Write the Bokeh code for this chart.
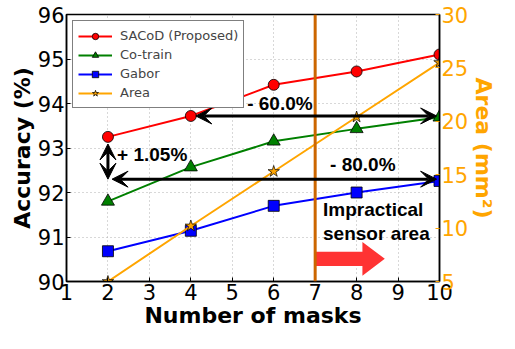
from bokeh.plotting import figure
from bokeh.models import (Range1d, LinearAxis, Legend, LegendItem, Span, Arrow,
                          VeeHead, Label, ColumnDataSource, FixedTicker)
from bokeh.embed import file_html
from bokeh.resources import INLINE

# ---- data ----
masks = [2, 4, 6, 8, 10]
sacod = [93.25, 93.72, 94.42, 94.72, 95.10]
cotrain = [91.80, 92.57, 93.15, 93.43, 93.69]
gabor = [90.68, 91.14, 91.70, 92.00, 92.26]
area = [5.0, 10.2, 15.3, 20.4, 25.5]

x_ticks = [1, 2, 3, 4, 5, 6, 7, 8, 9, 10]
acc_ticks = [90, 91, 92, 93, 94, 95, 96]
area_ticks = [5, 10, 15, 20, 25, 30]

# annotation anchors (data units)
limit_masks = 7
arr60 = dict(x0=4.12, x1=9.93, y=93.72)
arr80 = dict(x0=2.10, x1=9.93, y=92.30)
arr105 = dict(x=2.0, y0=93.09, y1=92.30)
red_arrow = dict(x0=7.0, xb=8.14, x1=8.68, yc=90.51, hw=0.16, hh=0.38)

ORANGE = "#ffa500"
TXT_FONT = "Liberation Sans"
TICK_FS = "21px"
TITLE_FS = "22px"

p = figure(width=499, height=333, output_backend="svg", toolbar_location=None,
           x_range=Range1d(1, 10), y_range=Range1d(90, 96),
           min_border_left=66, min_border_right=55, min_border_top=14,
           min_border_bottom=52)
p.extra_y_ranges = {"area": Range1d(5, 30)}

p.outline_line_color = "black"
p.outline_line_width = 1.5
p.background_fill_color = "white"

def style_axis(ax, color="black", tick_color="black"):
    ax.major_label_text_font = "DejaVu Sans"
    ax.major_label_text_font_size = TICK_FS
    ax.major_label_text_color = color
    ax.axis_label_text_font = "DejaVu Sans"
    ax.axis_label_text_font_style = "bold"
    ax.axis_label_text_font_size = TITLE_FS
    ax.axis_label_text_color = color
    ax.major_tick_out = 0
    ax.major_tick_in = 4
    ax.major_tick_line_color = tick_color
    ax.minor_tick_line_color = None
    ax.axis_line_color = "black"
    ax.axis_line_width = 1.5
    ax.major_label_standoff = 2
    ax.axis_label_standoff = 0

style_axis(p.xaxis[0])
style_axis(p.yaxis[0])
p.xaxis[0].ticker = FixedTicker(ticks=x_ticks)
p.yaxis[0].ticker = FixedTicker(ticks=acc_ticks)
p.xaxis[0].axis_label = "Number of masks"
p.yaxis[0].axis_label = "Accuracy (%)"

ax_r = LinearAxis(y_range_name="area", ticker=FixedTicker(ticks=area_ticks),
                  axis_label="Area (mm²)")
style_axis(ax_r, color=ORANGE, tick_color=ORANGE)
p.add_layout(ax_r, "right")

for g in (p.xgrid[0], p.ygrid[0]):
    g.grid_line_color = "#b0b0b0"
    g.grid_line_dash = "1 3"
    g.grid_line_width = 1
p.xgrid[0].ticker = FixedTicker(ticks=x_ticks)
p.ygrid[0].ticker = FixedTicker(ticks=acc_ticks)

src = ColumnDataSource(dict(x=masks, sacod=sacod, cotrain=cotrain, gabor=gabor, area=area))

# impractical region line
p.add_layout(Span(location=limit_masks, dimension="height", line_color="#cc6600",
                  line_width=3))

items = []
l1 = p.line("x", "sacod", source=src, line_color="red", line_width=2)
m1 = p.scatter("x", "sacod", source=src, marker="circle", size=11,
               fill_color="red", line_color="black", line_width=0.8)
items.append(LegendItem(label="SACoD (Proposed)", renderers=[l1, m1]))

l2 = p.line("x", "cotrain", source=src, line_color="green", line_width=2)
m2 = p.scatter("x", "cotrain", source=src, marker="triangle", size=13,
               fill_color="green", line_color="black", line_width=0.8)
items.append(LegendItem(label="Co-train", renderers=[l2, m2]))

l3 = p.line("x", "gabor", source=src, line_color="blue", line_width=2)
m3 = p.scatter("x", "gabor", source=src, marker="square", size=11,
               fill_color="blue", line_color="black", line_width=0.8)
items.append(LegendItem(label="Gabor", renderers=[l3, m3]))

l4 = p.line("x", "area", source=src, line_color=ORANGE, line_width=2, y_range_name="area")
m4 = p.scatter("x", "area", source=src, marker="star", size=12, y_range_name="area",
               fill_color=ORANGE, line_color="black", line_width=0.7)
items.append(LegendItem(label="Area", renderers=[l4, m4]))

# red arrow (impractical direction)
ra = red_arrow
p.patch([ra["x0"], ra["xb"], ra["xb"], ra["x1"], ra["xb"], ra["xb"], ra["x0"]],
        [ra["yc"] - ra["hw"], ra["yc"] - ra["hw"], ra["yc"] - ra["hh"], ra["yc"],
         ra["yc"] + ra["hh"], ra["yc"] + ra["hw"], ra["yc"] + ra["hw"]],
        fill_color="#ff3333", line_color=None)

def head():
    return VeeHead(size=16, fill_color="black", line_color="black")

p.add_layout(Arrow(x_start=arr60["x0"], y_start=arr60["y"], x_end=arr60["x1"], y_end=arr60["y"],
                   start=head(), end=head(), line_width=3, line_color="black"))
p.add_layout(Arrow(x_start=arr80["x0"], y_start=arr80["y"], x_end=arr80["x1"], y_end=arr80["y"],
                   start=head(), end=head(), line_width=3, line_color="black"))
p.add_layout(Arrow(x_start=arr105["x"], y_start=arr105["y0"], x_end=arr105["x"], y_end=arr105["y1"],
                   start=head(), end=head(), line_width=3, line_color="black"))

def lab(x, y, text, align="center"):
    p.add_layout(Label(x=x, y=y, text=text, text_font=TXT_FONT, text_font_style="bold",
                       text_font_size="19px", text_color="black", text_align=align,
                       text_baseline="middle"))

lab(6.15, 94.0, "- 60.0%")
lab(8.15, 92.62, "- 80.0%")
lab(2.22, 92.85, "+ 1.05%", align="left")
lab(7.19, 91.62, "Impractical", align="left")
lab(7.19, 91.07, "sensor area", align="left")

legend = Legend(items=items, location="top_left", margin=6, padding=5, spacing=0,
                label_text_font="DejaVu Sans", label_text_font_size="13px",
                label_height=19, glyph_height=16, glyph_width=34, label_standoff=8,
                border_line_color="black", border_line_width=1,
                background_fill_color="white", background_fill_alpha=1)
p.add_layout(legend)

open("out.html", "w").write(file_html(p, INLINE))
